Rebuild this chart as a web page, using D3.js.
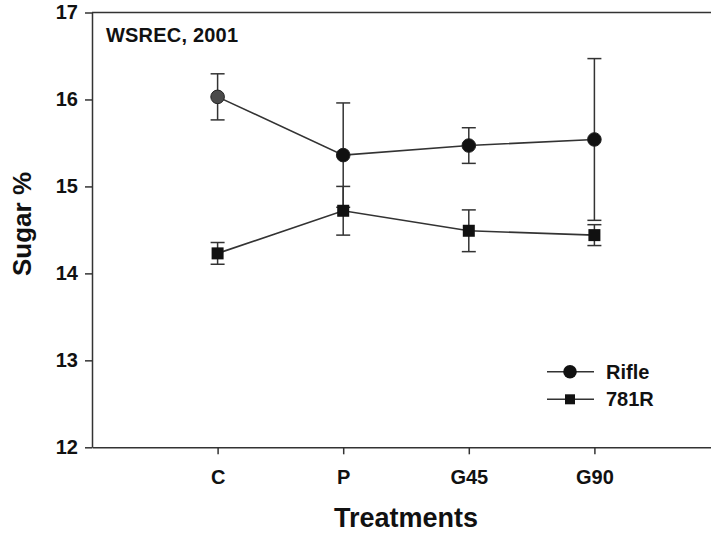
<!DOCTYPE html>
<html>
<head>
<meta charset="utf-8">
<script src="https://cdn.jsdelivr.net/npm/d3@7"></script>
<style>
  html, body { margin: 0; padding: 0; background: #fff; }
  svg { display: block; }
  text { font-family: "Liberation Sans", Arial, sans-serif; font-weight: bold; fill: #111; }
</style>
</head>
<body>
<svg id="chart" width="711" height="534"></svg>
<script>
// ---- data ----
const categories = ["C", "P", "G45", "G90"];
const rifleMeans = [16.03, 15.36, 15.47, 15.54];
const rifleErr   = [0.265, 0.60, 0.205, 0.93];
const r781Means  = [14.23, 14.72, 14.49, 14.44];
const r781Err    = [0.125, 0.28, 0.24, 0.12];
const yTicks = [12, 13, 14, 15, 16, 17];
const seriesNames = ["Rifle", "781R"];
const panelLabel = "WSREC, 2001";
const xTitle = "Treatments";
const yTitle = "Sugar %";

// ---- layout ----
const svg = d3.select("#chart");
const plotLeft = 92, plotRight = 720, plotTop = 12.5, plotBottom = 447.3;
const ink = "#333";

const x = d3.scaleLinear().domain([0, 5]).range([plotLeft, plotRight]);
const y = d3.scaleLinear().domain([12, 17]).range([plotBottom, plotTop]);
const xPos = i => x(i + 1);

// top border
svg.append("line")
  .attr("x1", plotLeft).attr("x2", 711)
  .attr("y1", y(17)).attr("y2", y(17))
  .attr("stroke", ink).attr("stroke-width", 1.5);

// y axis
const yAxis = svg.append("g")
  .attr("transform", `translate(${plotLeft},0)`)
  .call(d3.axisLeft(y).tickValues(yTicks).tickFormat(d3.format("d")).tickSize(7).tickPadding(7).tickSizeOuter(0));
yAxis.selectAll("path, line").attr("stroke", ink).attr("stroke-width", 1.5);
yAxis.selectAll("text").style("font-size", "20px").attr("fill", "#111");

// x axis
const xAxis = svg.append("g")
  .attr("transform", `translate(0,${plotBottom})`)
  .call(d3.axisBottom(x).tickValues(categories.map((c, i) => i + 1))
    .tickFormat((d) => categories[d - 1]).tickSize(7).tickPadding(16).tickSizeOuter(0));
xAxis.selectAll("path, line").attr("stroke", ink).attr("stroke-width", 1.5);
xAxis.selectAll("text").style("font-size", "20px").attr("fill", "#111");

// titles
svg.append("text")
  .attr("x", (plotLeft + plotRight) / 2).attr("y", 527)
  .attr("text-anchor", "middle").style("font-size", "27px")
  .text(xTitle);

svg.append("text")
  .attr("transform", `translate(31,224) rotate(-90)`)
  .attr("text-anchor", "middle").style("font-size", "26px")
  .text(yTitle);

svg.append("text")
  .attr("x", 106).attr("y", 41.5)
  .style("font-size", "20px").attr("textLength", 132)
  .text(panelLabel);

// ---- series ----
const series = [
  { name: seriesNames[0], means: rifleMeans, err: rifleErr, shape: "circle" },
  { name: seriesNames[1], means: r781Means, err: r781Err, shape: "square" }
];

const capW = 7;
series.forEach(s => {
  const g = svg.append("g");
  s.means.forEach((m, i) => {
    const cx = xPos(i);
    g.append("line").attr("x1", cx).attr("x2", cx)
      .attr("y1", y(m + s.err[i])).attr("y2", y(m - s.err[i]))
      .attr("stroke", ink).attr("stroke-width", 1.5);
    [m + s.err[i], m - s.err[i]].forEach(v => {
      g.append("line").attr("x1", cx - capW).attr("x2", cx + capW)
        .attr("y1", y(v)).attr("y2", y(v))
        .attr("stroke", ink).attr("stroke-width", 1.5);
    });
  });
  g.append("path")
    .datum(s.means)
    .attr("d", d3.line().x((d, i) => xPos(i)).y(d => y(d)))
    .attr("fill", "none").attr("stroke", ink).attr("stroke-width", 1.6);
});

series.forEach(s => {
  s.means.forEach((m, i) => {
    const cx = xPos(i), cy = y(m);
    if (s.shape === "circle") {
      svg.append("circle").attr("cx", cx).attr("cy", cy).attr("r", 6.8)
        .attr("fill", i === 0 ? "#4a4a4a" : "#111").attr("stroke", "#222").attr("stroke-width", 1);
    } else {
      svg.append("rect").attr("x", cx - 6).attr("y", cy - 6).attr("width", 12).attr("height", 12)
        .attr("fill", "#111");
    }
  });
});

// ---- legend ----
const legY = [371.7, 399.3];
series.forEach((s, k) => {
  const ly = legY[k];
  svg.append("line").attr("x1", 547).attr("x2", 594).attr("y1", ly).attr("y2", ly)
    .attr("stroke", ink).attr("stroke-width", 1.5);
  if (s.shape === "circle") {
    svg.append("circle").attr("cx", 570).attr("cy", ly).attr("r", 6.8).attr("fill", "#111");
  } else {
    svg.append("rect").attr("x", 565).attr("y", ly - 5).attr("width", 10).attr("height", 10).attr("fill", "#111");
  }
  svg.append("text").attr("x", 606).attr("y", ly + 7)
    .style("font-size", "20px").text(s.name);
});
</script>
</body>
</html>
